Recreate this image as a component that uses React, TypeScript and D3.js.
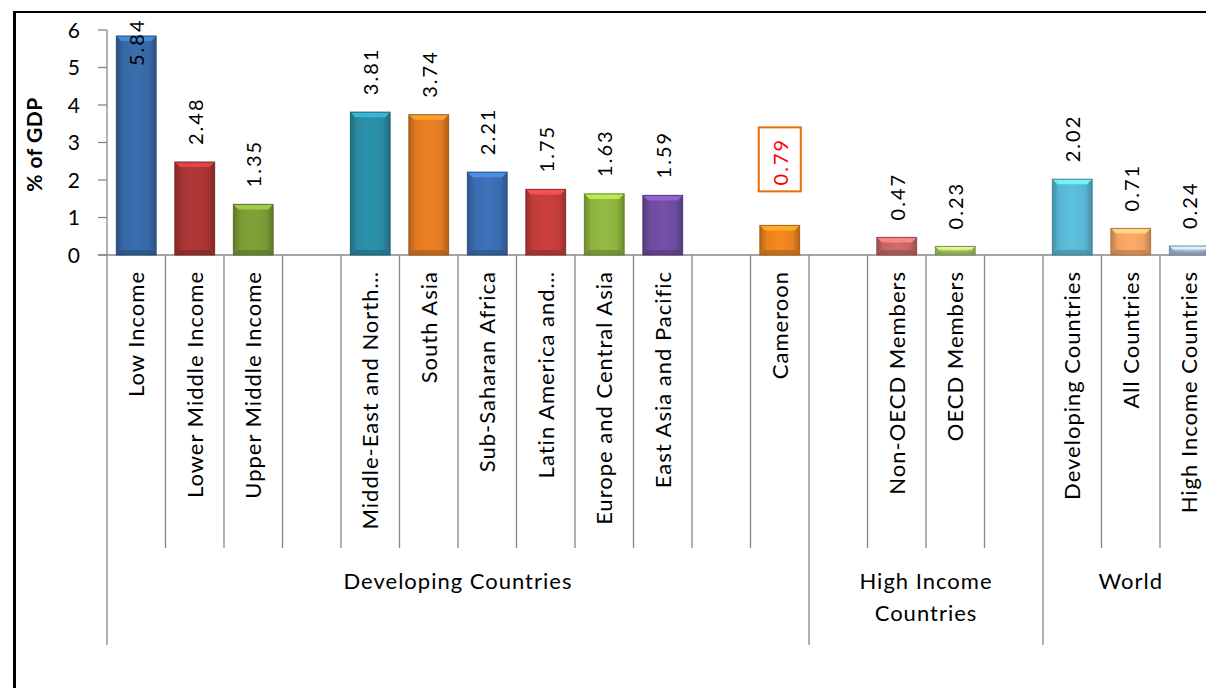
import React from "react";
import * as d3 from "d3";

const categories = [
  "Low Income", "Lower Middle Income", "Upper Middle Income", "",
  "Middle-East and North…", "South Asia", "Sub-Saharan Africa", "Latin America and…",
  "Europe and Central Asia", "East Asia and Pacific", "", "Cameroon", "",
  "Non-OECD Members", "OECD Members", "", "Developing Countries", "All Countries",
  "High Income Countries",
];
const values: (number | null)[] = [
  5.84, 2.48, 1.35, null,
  3.81, 3.74, 2.21, 1.75, 1.63, 1.59, null, 0.79, null,
  0.47, 0.23, null, 2.02, 0.71, 0.24,
];
const barColors: (string | null)[] = [
  "#3668a6", "#a83434", "#7a9a34", null,
  "#2a8aa2", "#e07a22", "#3a6cb0", "#c23c3c", "#8cb23e", "#6e4c9e", null, "#e8821e", null,
  "#c46666", "#a8c86a", null, "#58b6d2", "#f0a262", "#a4b8d6",
];
const highlighted = ["Cameroon"];
const yTicks = [0, 1, 2, 3, 4, 5, 6];
const groups = [
  { lines: ["Developing Countries"], from: 0, to: 11 },
  { lines: ["High Income", "Countries"], from: 12, to: 15 },
  { lines: ["World"], from: 16, to: 18 },
];
const yTitle = "% of GDP";

const W = 1206, H = 688;
const x0 = 107, step = 58.5;
const baseY = 255, topY = 30;
const divBottom = 548, groupBottom = 645;
const FONT = "Lato, 'Open Sans', sans-serif";

export default function App() {
  const x = d3.scaleBand<number>()
    .domain(d3.range(categories.length))
    .range([x0, x0 + step * categories.length])
    .paddingInner(0.32).paddingOuter(0.16);
  const y = d3.scaleLinear().domain([0, 6]).range([baseY, topY]);
  const bw = x.bandwidth();
  const slotLeft = (i: number) => x0 + step * i;

  return (
    <svg width={W} height={H} style={{ position: "absolute", left: 0, top: 0, background: "#fff" }}>
      <defs>
        {barColors.map((c, i) => c ? (
          <linearGradient key={i} id={`g${i}`} x1="0" x2="1" y1="0" y2="0">
            <stop offset="0" stopColor={d3.color(c)!.darker(0.7).formatHex()} />
            <stop offset="0.18" stopColor={c} />
            <stop offset="0.5" stopColor={d3.color(c)!.brighter(0.15).formatHex()} />
            <stop offset="0.82" stopColor={c} />
            <stop offset="1" stopColor={d3.color(c)!.darker(0.7).formatHex()} />
          </linearGradient>
        ) : null)}
      </defs>
      {/* frame */}
      <line x1={13} x2={W} y1={12} y2={12} stroke="#000" strokeWidth={2} />
      <line x1={14.5} x2={14.5} y1={11} y2={H} stroke="#000" strokeWidth={3} />

      {/* y axis */}
      <line x1={x0} x2={x0} y1={topY} y2={baseY} stroke="#888" strokeWidth={1.3} />
      {yTicks.map(t => (
        <g key={t}>
          <line x1={x0 - 9} x2={x0} y1={y(t)} y2={y(t)} stroke="#888" strokeWidth={1.3} />
          <text x={80} y={y(t)} dy="0.36em" textAnchor="end" fontFamily={FONT} fontSize={21} fill="#000">{t}</text>
        </g>
      ))}
      <text transform={`translate(42,${(topY + baseY) / 2 + 2}) rotate(-90)`} textAnchor="middle"
        fontFamily={FONT} fontWeight="bold" fontSize={21} letterSpacing={0.5} fill="#000">{yTitle}</text>

      {/* baseline */}
      <line x1={x0 - 9} x2={W} y1={baseY} y2={baseY} stroke="#888" strokeWidth={1.3} />

      {/* dividers */}
      {categories.map((_, i) => {
        if (i === 0) return null;
        const isGroup = groups.some(g => g.from === i);
        return <line key={i} x1={slotLeft(i)} x2={slotLeft(i)} y1={baseY} y2={isGroup ? groupBottom : divBottom}
          stroke="#888" strokeWidth={1.3} />;
      })}
      <line x1={x0} x2={x0} y1={baseY} y2={groupBottom} stroke="#888" strokeWidth={1.3} />

      {/* bars */}
      {values.map((v, i) => {
        if (v == null) return null;
        const c = barColors[i]!;
        const bx = x(i)!;
        const by = y(v);
        const h = baseY - by;
        const b = Math.min(5, h / 2.5);
        const light = d3.color(c)!.brighter(0.9).formatHex();
        const dark = d3.color(c)!.darker(0.9).formatHex();
        return (
          <g key={i}>
            <rect x={bx} y={by} width={bw} height={h} fill={`url(#g${i})`} />
            <polygon points={`${bx},${by} ${bx + bw},${by} ${bx + bw - b},${by + b} ${bx + b},${by + b}`} fill={light} opacity={0.85} />
            <polygon points={`${bx},${baseY} ${bx + bw},${baseY} ${bx + bw - b},${baseY - b} ${bx + b},${baseY - b}`} fill={dark} opacity={0.6} />
            <rect x={bx} y={by} width={bw} height={h} fill="none" stroke={dark} strokeWidth={1} />
          </g>
        );
      })}

      {/* value labels */}
      {values.map((v, i) => {
        if (v == null) return null;
        const cx = x(i)! + bw / 2;
        const start = Math.max(y(v) - 17, 66);
        const isHi = highlighted.includes(categories[i]);
        if (isHi) {
          const s = y(v) - 34;
          return (
            <g key={i}>
              <rect x={cx - 21} y={s - 64} width={42} height={64} fill="none" stroke="#e46c0a" strokeWidth={2} />
              <text transform={`translate(${cx + 8},${s - 6}) rotate(-90)`} fontFamily={FONT} fontSize={20}
                fill="#ff0000" letterSpacing={2}>{v.toFixed(2)}</text>
            </g>
          );
        }
        return (
          <text key={i} transform={`translate(${cx + 8},${start}) rotate(-90)`} fontFamily={FONT} fontSize={20}
            fill="#000" letterSpacing={2}>{v.toFixed(2)}</text>
        );
      })}

      {/* category labels */}
      {categories.map((c, i) => c ? (
        <text key={i} transform={`translate(${x(i)! + bw / 2 + 8},${271}) rotate(-90)`} textAnchor="end"
          fontFamily={FONT} fontSize={22} letterSpacing={1} fill="#000">{c}</text>
      ) : null)}

      {/* group labels */}
      {groups.map((g, k) => {
        const cx = (slotLeft(g.from) + slotLeft(g.to + 1)) / 2;
        return (
          <text key={k} textAnchor="middle" fontFamily={FONT} fontSize={22} letterSpacing={1} fill="#000">
            {g.lines.map((l, j) => <tspan key={j} x={cx} y={589 + j * 32}>{l}</tspan>)}
          </text>
        );
      })}
    </svg>
  );
}
